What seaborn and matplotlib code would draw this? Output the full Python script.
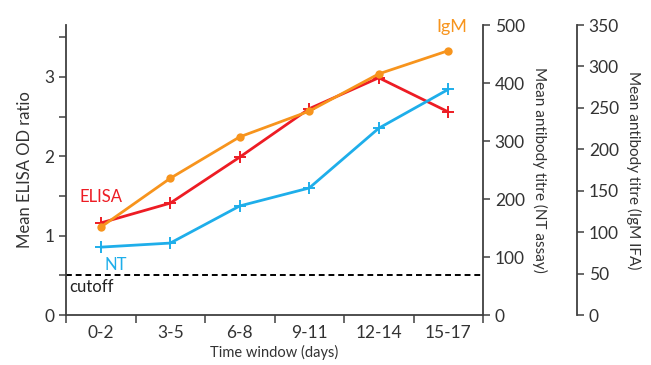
import numpy as np
import matplotlib
matplotlib.use("Agg")
import matplotlib.pyplot as plt
import seaborn as sns

# -----------------------------
# Data
# -----------------------------
windows = ["0-2", "3-5", "6-8", "9-11", "12-14", "15-17"]
elisa_od = [1.16, 1.41, 1.99, 2.60, 2.99, 2.56]      # left axis
nt_titre = [117, 124, 188, 219, 322, 389]            # NT assay axis
igm_titre = [106, 165, 215, 246, 291, 319]           # IgM IFA axis
cutoff = 0.5

# -----------------------------
# Style
# -----------------------------
sns.set_style("ticks")
plt.rcParams["font.family"] = ["Lato", "DejaVu Sans"]
AX_COL = "#404040"
TXT_COL = "#333333"
RED = "#ED1C24"
BLUE = "#1EAEEA"
ORANGE = "#F7941D"

x = np.arange(len(windows))

fig = plt.figure(figsize=(6.51, 3.65), dpi=100)
ax = fig.add_axes([66 / 651, 50 / 365, 417 / 651, 290 / 365])
ax2 = ax.twinx()
ax3 = ax.twinx()

# -----------------------------
# Lines
# -----------------------------
sns.lineplot(x=x, y=elisa_od, ax=ax, color=RED, lw=2, marker="+",
             markersize=9, markeredgewidth=1.4, markeredgecolor=RED, zorder=3)
sns.lineplot(x=x, y=nt_titre, ax=ax2, color=BLUE, lw=2, marker="+",
             markersize=9, markeredgewidth=1.4, markeredgecolor=BLUE)
sns.lineplot(x=x, y=igm_titre, ax=ax3, color=ORANGE, lw=2, marker="o",
             markersize=6, markeredgewidth=0, zorder=2)
ax.axhline(cutoff, color="black", ls=(0, (3, 2)), lw=1.4)

ax.set_xlim(-0.5, len(windows) - 0.5)
ax.set_ylim(0, 3.655)
ax2.set_ylim(0, 500)
ax3.set_ylim(0, 350)

# -----------------------------
# Axes / ticks
# -----------------------------
for a in (ax, ax2, ax3):
    for s in a.spines.values():
        s.set_visible(False)
    a.tick_params(colors=AX_COL, labelcolor=TXT_COL, labelsize=12.5,
                  width=1.1, length=5)

ax.spines["left"].set_visible(True)
ax.spines["bottom"].set_visible(True)
ax2.spines["right"].set_visible(True)
ax3.spines["right"].set_visible(True)
ax3.spines["right"].set_position(("axes", (577 - 66) / 417))
for s in (ax.spines["left"], ax.spines["bottom"], ax2.spines["right"], ax3.spines["right"]):
    s.set_color(AX_COL)
    s.set_linewidth(1.3)

ax.set_xticks(x)
ax.set_xticklabels(windows)
ax.set_xticks(np.arange(len(windows) + 1) - 0.5, minor=True)
ax.tick_params(axis="x", which="major", length=0, pad=7)
ax.tick_params(axis="x", which="minor", length=6, width=1.1, color=AX_COL)

ax.set_yticks([0, 1, 2, 3])
ax.set_yticks([0.5, 1.5, 2.5, 3.5], minor=True)
ax.tick_params(axis="y", which="minor", length=5, width=1.1, color=AX_COL)

ax2.set_yticks(np.arange(0, 501, 100))
ax3.set_yticks(np.arange(0, 351, 50))

ax.set_xlabel("Time window (days)", fontsize=10.5, color=TXT_COL, labelpad=3)
ax.set_ylabel("Mean ELISA OD ratio", fontsize=12, color=TXT_COL, labelpad=8)
ax2.set_ylabel("Mean antibody titre (NT assay)", fontsize=11, color=TXT_COL,
               rotation=270, labelpad=16)
ax3.set_ylabel("Mean antibody titre (IgM IFA)", fontsize=11, color=TXT_COL,
               rotation=270, labelpad=16)

# -----------------------------
# Annotations
# -----------------------------
ax.text(0, 1.49, "ELISA", color=RED, fontsize=12, ha="center", va="center")
ax.text(0.22, 0.63, "NT", color=BLUE, fontsize=12, ha="center", va="center")
ax.text(-0.45, 0.35, "cutoff", color="#222222", fontsize=12, ha="left", va="center")
ax.text(5.05, 3.63, "IgM", color=ORANGE, fontsize=13, ha="center", va="center",
        clip_on=False)

fig.savefig("out.png", dpi=100)
